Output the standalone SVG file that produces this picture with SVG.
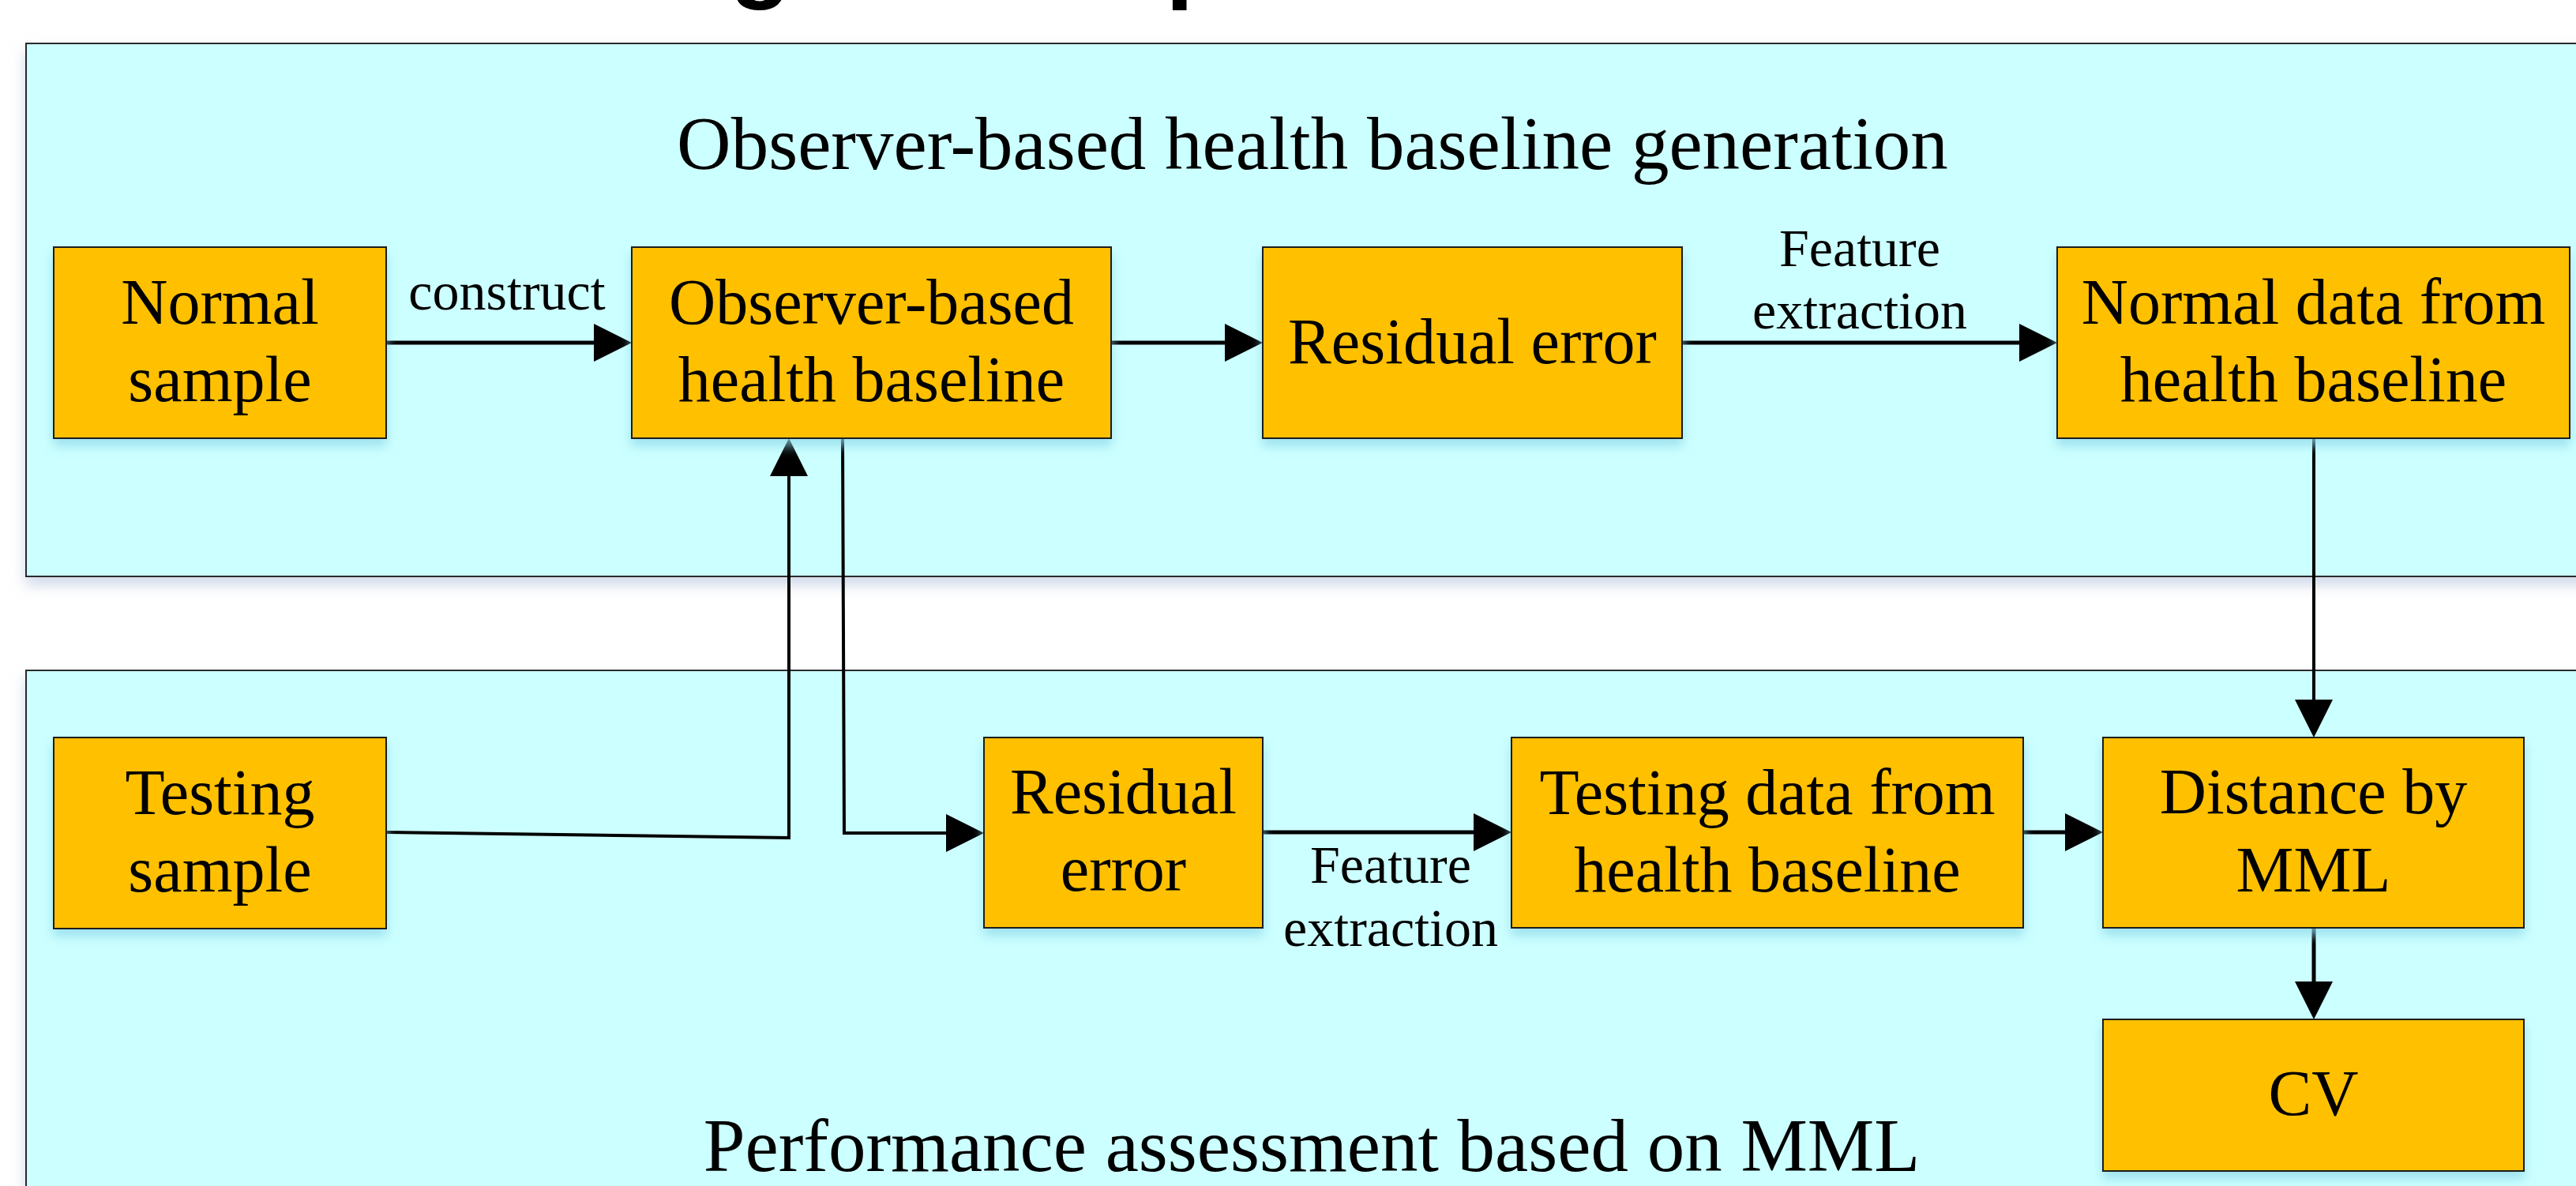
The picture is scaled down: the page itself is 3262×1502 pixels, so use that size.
<svg xmlns="http://www.w3.org/2000/svg" width="3262" height="1502" viewBox="0 0 3262 1502">
<style>
.panel{fill:#CCFFFF;stroke:#2a2a2a;stroke-width:2}
.box{fill:#FFC000;stroke:#1a1a1a;stroke-width:2}
.t{font-family:"Liberation Serif","Times New Roman",serif;font-size:82px;fill:#000;text-anchor:middle}
.lbl{font-family:"Liberation Serif","Times New Roman",serif;font-size:68px;fill:#000;text-anchor:middle}
.ttl{font-family:"Liberation Serif","Times New Roman",serif;font-size:95px;fill:#000;text-anchor:middle}
.head{font-family:"Liberation Sans",Arial,sans-serif;font-weight:bold;font-size:128px;fill:#000}
.c{fill:none;stroke:#000;stroke-linejoin:miter}
.w5{stroke-width:5}
.w4{stroke-width:4}
</style>
<defs>
<filter id="bsh" x="-10%" y="-10%" width="120%" height="140%">
<feDropShadow dx="0" dy="9" stdDeviation="7" flood-color="#8fd8ea" flood-opacity="0.75"/>
</filter>
<filter id="psh" x="-5%" y="-5%" width="110%" height="120%">
<feDropShadow dx="0" dy="10" stdDeviation="9" flood-color="#a9b8d6" flood-opacity="0.55"/>
</filter>
<marker id="ah" viewBox="0 -25 50 50" markerWidth="50" markerHeight="50" refX="0" refY="0" markerUnits="userSpaceOnUse" orient="auto" overflow="visible">
<path d="M0,-24 L48,0 L0,24 Z" fill="#000"/>
</marker>
</defs>
<rect width="3262" height="1502" fill="#fff"/>
<g id="title-fragment">
<text class="head" x="924" y="-14">g</text>
<text class="head" x="1476" y="-14">p</text>
</g>
<g id="panel-top">
<rect class="panel" x="33" y="55" width="3300" height="675" filter="url(#psh)"/>
<text class="ttl" x="1662" y="214">Observer-based health baseline generation</text>
</g>
<g id="panel-bottom">
<rect class="panel" x="33" y="849" width="3300" height="700" filter="url(#psh)"/>
<text class="ttl" x="1661" y="1483">Performance assessment based on MML</text>
</g>
<g id="connectors">
<path class="c w5" d="M489,434 H752" marker-end="url(#ah)"/>
<path class="c w5" d="M1407,434 H1551" marker-end="url(#ah)"/>
<path class="c w5" d="M2130,434 H2557" marker-end="url(#ah)"/>
<path class="c w4" d="M2930,555 V886" marker-end="url(#ah)"/>
<path class="c w4" d="M489,1054 L999,1061 V603" marker-end="url(#ah)"/>
<path class="c w4" d="M1067,555 L1069,1055 H1198" marker-end="url(#ah)"/>
<path class="c w5" d="M1599,1054 H1866" marker-end="url(#ah)"/>
<path class="c w5" d="M2562,1054 H2615" marker-end="url(#ah)"/>
<path class="c w5" d="M2930,1175 V1243" marker-end="url(#ah)"/>
</g>
<g id="labels">
<text class="lbl" x="642" y="392">construct</text>
<text class="lbl" x="2355" y="337">Feature</text>
<text class="lbl" x="2355" y="416">extraction</text>
<text class="lbl" x="1761" y="1118">Feature</text>
<text class="lbl" x="1761" y="1198">extraction</text>
</g>
<g id="node-normal-sample">
<rect class="box" x="68" y="313" width="421" height="242" filter="url(#bsh)"/>
<text class="t" x="278.5" y="410">Normal</text>
<text class="t" x="278.5" y="508">sample</text>
</g>
<g id="node-observer-baseline">
<rect class="box" x="800" y="313" width="607" height="242" filter="url(#bsh)"/>
<text class="t" x="1103.5" y="410">Observer-based</text>
<text class="t" x="1103.5" y="508">health baseline</text>
</g>
<g id="node-residual-top">
<rect class="box" x="1599" y="313" width="531" height="242" filter="url(#bsh)"/>
<text class="t" x="1864.5" y="460">Residual error</text>
</g>
<g id="node-normal-data">
<rect class="box" x="2605" y="313" width="649" height="242" filter="url(#bsh)"/>
<text class="t" x="2929.5" y="410">Normal data from</text>
<text class="t" x="2929.5" y="508">health baseline</text>
</g>
<g id="node-testing-sample">
<rect class="box" x="68" y="934" width="421" height="242" filter="url(#bsh)"/>
<text class="t" x="278.5" y="1031">Testing</text>
<text class="t" x="278.5" y="1129">sample</text>
</g>
<g id="node-residual-bottom">
<rect class="box" x="1246" y="934" width="353" height="241" filter="url(#bsh)"/>
<text class="t" x="1422.5" y="1030">Residual</text>
<text class="t" x="1422.5" y="1128">error</text>
</g>
<g id="node-testing-data">
<rect class="box" x="1914" y="934" width="648" height="241" filter="url(#bsh)"/>
<text class="t" x="2238" y="1031">Testing data from</text>
<text class="t" x="2238" y="1129">health baseline</text>
</g>
<g id="node-distance">
<rect class="box" x="2663" y="934" width="533" height="241" filter="url(#bsh)"/>
<text class="t" x="2929.5" y="1030">Distance by</text>
<text class="t" x="2929.5" y="1129">MML</text>
</g>
<g id="node-cv">
<rect class="box" x="2663" y="1291" width="533" height="192" filter="url(#bsh)"/>
<text class="t" x="2929.5" y="1412">CV</text>
</g>
</svg>
